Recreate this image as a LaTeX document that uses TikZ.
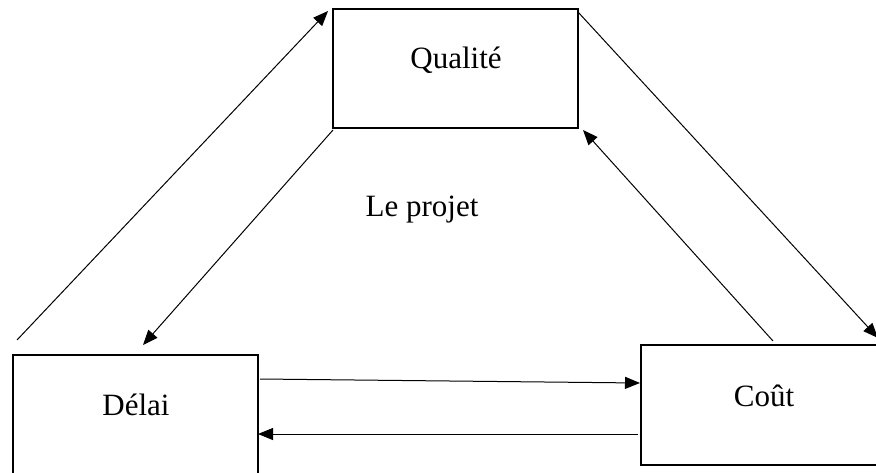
\documentclass[tikz,border=0pt]{standalone}
\usepackage{fontspec}
\setmainfont{Liberation Serif}
\usetikzlibrary{arrows.meta}
\begin{document}
\begin{tikzpicture}[x=1pt,y=-1pt,
  box/.style={draw=black,line width=2.6pt,rectangle,inner sep=0pt},
  lbl/.style={anchor=base,font=\fontsize{31}{37}\selectfont,inner sep=0pt},
  conn/.style={line width=1pt,-{Triangle[length=15pt,width=12pt]}}]
\useasboundingbox (0,0) rectangle (876,472);
\clip (0,0) rectangle (876,472);
% boxes
\node[box,minimum width=245pt,minimum height=119pt] (qual) at (455.5,68.5) {};
\node[box,minimum width=245pt,minimum height=140pt] (delai) at (135.5,425) {};
\node[box,minimum width=250pt,minimum height=120pt] (cout) at (766,405) {};
% labels
\node[lbl] (qualt) at (456,68) {Qualité};
\node[lbl] (delait) at (136,415) {Délai};
\node[lbl] (coutt) at (764,406) {Coût};
\node[lbl] (projet) at (422,216) {Le projet};
% connector ends
\coordinate (a1s) at (17,340);
\coordinate (a1e) at (328,11);
\coordinate (a2s) at (578,12);
\coordinate (a2e) at (878,338);
\coordinate (a3s) at (333,130);
\coordinate (a3e) at (143,345);
\coordinate (a4s) at (773,341);
\coordinate (a4e) at (583,130);
\coordinate (a5s) at (260,379);
\coordinate (a5e) at (640,383);
\coordinate (a6s) at (638,434);
\coordinate (a6e) at (258,434);
% connectors
\draw[conn] (a1s) -- (a1e);
\draw[conn] (a2s) -- (a2e);
\draw[conn] (a3s) -- (a3e);
\draw[conn] (a4s) -- (a4e);
\draw[conn] (a5s) -- (a5e);
\draw[conn] (a6s) -- (a6e);
\end{tikzpicture}
\end{document}
